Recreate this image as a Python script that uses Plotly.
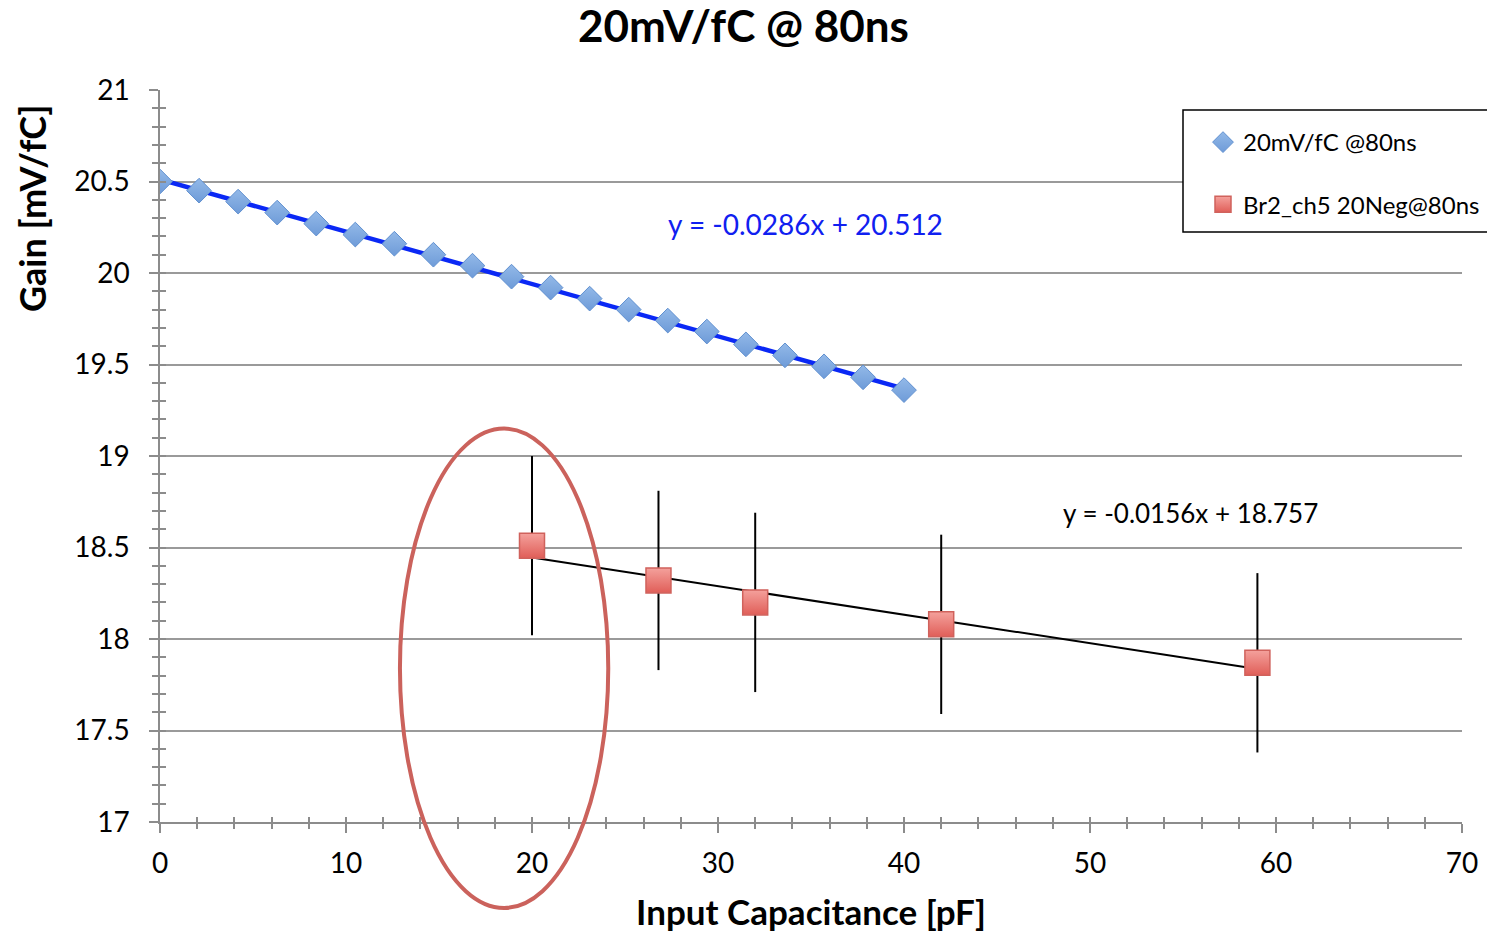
import plotly.graph_objects as go

# Series 1: 20mV/fC @80ns gain vs input capacitance
cap_a = [0, 2.1, 4.2, 6.3, 8.4, 10.5, 12.6, 14.7, 16.8, 18.9,
         21.0, 23.1, 25.2, 27.3, 29.4, 31.5, 33.6, 35.7, 37.8, 40.0]
gain_a = [20.50, 20.45, 20.39, 20.33, 20.27, 20.21, 20.16, 20.10, 20.04, 19.98,
          19.92, 19.86, 19.80, 19.74, 19.68, 19.61, 19.55, 19.49, 19.43, 19.36]
fit_a = (-0.0286, 20.512)

# Series 2: Br2_ch5 20Neg@80ns with error bars
cap_b = [20.0, 26.8, 32.0, 42.0, 59.0]
gain_b = [18.51, 18.32, 18.20, 18.08, 17.87]
err_b = [0.49, 0.49, 0.49, 0.49, 0.49]
fit_b = (-0.0156, 18.757)

# Highlighted region (ellipse bounds in data units)
ell_x = (12.9, 24.1)
ell_y = (16.53, 19.15)

x_range = [0, 70]
y_range = [17, 21]

FONT = "Lato"
GRID = "#9a9a9a"
AXIS = "#8c8c8c"

W, H = 1487, 933
ML, MR, MT, MB = 160, 25, 90, 111
PW, PH = W - ML - MR, H - MT - MB


def px_x(p):
    """Pixel column -> paper x."""
    return (p - ML) / PW


def px_y(p):
    """Pixel row -> paper y."""
    return (H - MB - p) / PH


fig = go.Figure()

# Trendlines
fa = [cap_a[0], cap_a[-1]]
fig.add_trace(go.Scatter(x=fa, y=[fit_a[0] * v + fit_a[1] for v in fa], mode="lines",
                         line=dict(color="#0A28F5", width=4.5), showlegend=False, hoverinfo="skip"))
fb = [cap_b[0], cap_b[-1]]
fig.add_trace(go.Scatter(x=fb, y=[fit_b[0] * v + fit_b[1] for v in fb], mode="lines",
                         line=dict(color="black", width=2), showlegend=False, hoverinfo="skip"))

fig.add_trace(go.Scatter(
    x=cap_a, y=gain_a, mode="markers", name="20mV/fC @80ns",
    marker=dict(symbol="diamond", size=19, color="#93B9E8",
                gradient=dict(type="vertical", color="#6E9BD8"),
                line=dict(color="#6090D0", width=1)),
    legendgroup="a"))

fig.add_trace(go.Scatter(
    x=cap_b, y=gain_b, mode="markers", name="Br2_ch5 20Neg@80ns",
    error_y=dict(type="data", array=err_b, visible=True, color="black", thickness=2, width=0),
    marker=dict(symbol="square", size=25, color="#F4A19C",
                gradient=dict(type="vertical", color="#E05E58"),
                line=dict(color="#D0625C", width=1.5)),
    legendgroup="b"))

# Invisible trace to carry the overlay axes used for the inner half of the crossing ticks
fig.add_trace(go.Scatter(x=[None], y=[None], xaxis="x2", yaxis="y2", showlegend=False,
                         hoverinfo="skip"))

fig.update_layout(
    width=W, height=H,
    paper_bgcolor="white", plot_bgcolor="white",
    margin=dict(l=ML, r=MR, t=MT, b=MB, autoexpand=False),
    font=dict(family=FONT, size=28, color="black"),
    title=dict(text="<b>20mV/fC @ 80ns</b>", x=0.5, xanchor="center",
               y=1 - 27 / H, yanchor="middle", font=dict(size=44, family=FONT)),
    xaxis=dict(range=x_range, dtick=10, tick0=0, showgrid=False, zeroline=False,
               showline=True, linecolor=AXIS, linewidth=1.5,
               ticks="outside", ticklen=9, tickwidth=1.5, tickcolor=AXIS,
               minor=dict(dtick=2, ticks="outside", ticklen=5, tickwidth=1.5, tickcolor=AXIS),
               ticklabelstandoff=7,
               title=dict(text="<b>Input Capacitance [pF]</b>", font=dict(size=35), standoff=22)),
    yaxis=dict(range=y_range, dtick=0.5, tick0=17, showgrid=True, gridcolor=GRID, gridwidth=1.5,
               zeroline=False, showline=True, linecolor=AXIS, linewidth=1.5,
               ticks="outside", ticklen=9, tickwidth=1.5, tickcolor=AXIS,
               minor=dict(dtick=0.1, ticks="outside", ticklen=6, tickwidth=1.5, tickcolor=AXIS,
                          showgrid=False),
               ticklabelstandoff=14),
    xaxis2=dict(range=x_range, overlaying="x", anchor="y2", side="bottom", dtick=2, tick0=0,
                showgrid=False, zeroline=False, showline=False, showticklabels=False,
                ticks="inside", ticklen=5, tickwidth=1.5, tickcolor=AXIS),
    yaxis2=dict(range=y_range, overlaying="y", anchor="x2", side="left", dtick=0.1, tick0=17,
                showgrid=False, zeroline=False, showline=False, showticklabels=False,
                ticks="inside", ticklen=6, tickwidth=1.5, tickcolor=AXIS),
    legend=dict(x=px_x(1203), y=px_y(120), xanchor="left", yanchor="top",
                bgcolor="rgba(0,0,0,0)", borderwidth=0, font=dict(size=24),
                tracegroupgap=28, itemwidth=30),
    showlegend=True,
)

# Y axis title, placed toward the top of the axis
fig.add_annotation(xref="paper", yref="paper", x=px_x(32), y=px_y(209), textangle=-90,
                   showarrow=False, text="<b>Gain [mV/fC]</b>", font=dict(size=36),
                   xanchor="center", yanchor="middle")

# Legend frame, white so gridlines stop at its edge
fig.add_shape(type="rect", xref="paper", yref="paper",
              x0=px_x(1183), x1=1.05, y0=px_y(232), y1=px_y(110),
              line=dict(color="black", width=1.5), fillcolor="white", layer="above")

# Ellipse around the first measured point
fig.add_shape(type="circle", xref="x domain", yref="y domain",
              x0=(ell_x[0] - x_range[0]) / (x_range[1] - x_range[0]),
              x1=(ell_x[1] - x_range[0]) / (x_range[1] - x_range[0]),
              y0=(ell_y[0] - y_range[0]) / (y_range[1] - y_range[0]),
              y1=(ell_y[1] - y_range[0]) / (y_range[1] - y_range[0]),
              line=dict(color="#CB625C", width=4), layer="above")

# Fit equations
fig.add_annotation(x=34.7, y=20.27, xref="x", yref="y", showarrow=False,
                   text=f"y = {fit_a[0]}x + {fit_a[1]}", font=dict(size=28, color="#1020F0"))
fig.add_annotation(x=55.4, y=18.69, xref="x", yref="y", showarrow=False,
                   text=f"y = {fit_b[0]}x + {fit_b[1]}", font=dict(size=26, color="black"))

fig.write_html("out.html")
